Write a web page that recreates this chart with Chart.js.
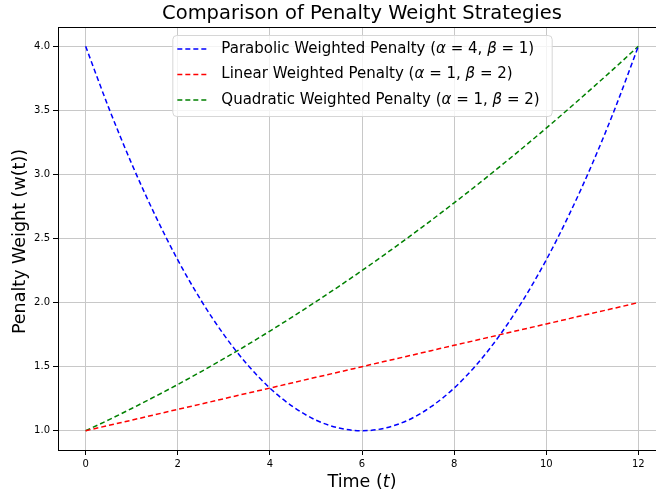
<!DOCTYPE html>
<html>
<head>
<meta charset="utf-8">
<script src="https://cdn.jsdelivr.net/npm/chart.js@4/dist/chart.umd.min.js"></script>
<style>
    html, body { margin: 0; padding: 0; background: #fff; overflow: hidden; }
    #wrap { position: relative; width: 666px; height: 491px; }
</style>
</head>
<body>
<div id="wrap"><canvas id="chart"></canvas></div>
<script>
// values, t in steps of 0.5
const times = [0, 0.5, 1, 1.5, 2, 2.5, 3, 3.5, 4, 4.5, 5, 5.5, 6,
    6.5, 7, 7.5, 8, 8.5, 9, 9.5, 10, 10.5, 11, 11.5, 12];
const parabolic = [4.000, 3.521, 3.083, 2.688, 2.333, 2.021, 1.750, 1.521, 1.333, 1.188, 1.083, 1.021, 1.000,
    1.021, 1.083, 1.188, 1.333, 1.521, 1.750, 2.021, 2.333, 2.688, 3.083, 3.521, 4.000];
const linear = [1.000, 1.042, 1.083, 1.125, 1.167, 1.208, 1.250, 1.292, 1.333, 1.375, 1.417, 1.458, 1.500,
    1.542, 1.583, 1.625, 1.667, 1.708, 1.750, 1.792, 1.833, 1.875, 1.917, 1.958, 2.000];
const quadratic = [1.000, 1.085, 1.174, 1.266, 1.361, 1.460, 1.563, 1.668, 1.778, 1.891, 2.007, 2.127, 2.250,
    2.377, 2.507, 2.641, 2.778, 2.918, 3.063, 3.210, 3.361, 3.516, 3.674, 3.835, 4.000];

const seriesLabels = [
    'Parabolic Weighted Penalty (α = 4, β = 1)',
    'Linear Weighted Penalty (α = 1, β = 2)',
    'Quadratic Weighted Penalty (α = 1, β = 2)',
];
const seriesColors = ['#0000ff', '#ff0000', '#008000'];

const xTicks = [0, 2, 4, 6, 8, 10, 12];
const yTicks = [1.0, 1.5, 2.0, 2.5, 3.0, 3.5, 4.0];

const titleText = 'Comparison of Penalty Weight Strategies';
const xTitle = [['Time (', false], ['t', true], [')', false]];
const yTitle = [['Penalty Weight (w(t))', false]];

const FONT = '"DejaVu Sans", sans-serif';

// split a label so greek letters come out italic, like mathtext
function richParts(text) {
    const parts = [];
    for (const ch of text) {
        const it = ch === 'α' || ch === 'β';
        const last = parts[parts.length - 1];
        if (last && last[1] === it) last[0] += ch;
        else parts.push([ch, it]);
    }
    return parts;
}

function richWidth(ctx, parts, size) {
    let w = 0;
    for (const [s, it] of parts) {
        ctx.font = (it ? 'italic ' : '') + size + 'px ' + FONT;
        w += ctx.measureText(s).width;
    }
    return w;
}

function drawRich(ctx, parts, x, y, size) {
    for (const [s, it] of parts) {
        ctx.font = (it ? 'italic ' : '') + size + 'px ' + FONT;
        ctx.fillText(s, x, y);
        x += ctx.measureText(s).width;
    }
}

const decor = {
    id: 'decor',
    afterDraw(chart) {
        const { ctx, chartArea: a } = chart;
        const cx = (a.left + a.right) / 2;
        ctx.save();

        // top spine
        ctx.strokeStyle = '#000';
        ctx.lineWidth = 1;
        ctx.beginPath();
        ctx.moveTo(a.left, a.top + 0.5);
        ctx.lineTo(a.right, a.top + 0.5);
        ctx.stroke();

        ctx.fillStyle = '#000';
        ctx.textBaseline = 'middle';
        ctx.textAlign = 'center';
        ctx.font = '19.5px ' + FONT;
        ctx.fillText(titleText, cx, 14);

        ctx.textAlign = 'left';
        let w = richWidth(ctx, xTitle, 17.5);
        drawRich(ctx, xTitle, cx - w / 2, 482, 17.5);

        ctx.save();
        ctx.translate(20, (a.top + a.bottom) / 2 + 3);
        ctx.rotate(-Math.PI / 2);
        w = richWidth(ctx, yTitle, 17.5);
        drawRich(ctx, yTitle, -w / 2, 0, 17.5);
        ctx.restore();

        // legend box
        const rows = seriesLabels.map(richParts);
        const textW = Math.max(...rows.map(r => richWidth(ctx, r, 15)));
        const boxW = 49 + textW + 12;
        const boxL = cx - boxW / 2;
        const boxT = 35;
        const boxH = 81;
        ctx.beginPath();
        ctx.roundRect(boxL + 0.5, boxT + 0.5, boxW, boxH, 4);
        ctx.fillStyle = 'rgba(255,255,255,0.8)';
        ctx.fill();
        ctx.strokeStyle = '#d6d6d6';
        ctx.stroke();

        rows.forEach((parts, i) => {
            const y = boxT + 14 + i * 25.5;
            ctx.strokeStyle = seriesColors[i];
            ctx.lineWidth = 1.5;
            ctx.setLineDash([5, 3]);
            ctx.beginPath();
            ctx.moveTo(boxL + 5, y);
            ctx.lineTo(boxL + 36, y);
            ctx.stroke();
            ctx.setLineDash([]);
            ctx.fillStyle = '#000';
            drawRich(ctx, parts, boxL + 49, y, 15);
        });

        ctx.restore();
    }
};

const series = [parabolic, linear, quadratic];

new Chart(document.getElementById('chart'), {
    type: 'line',
    data: {
        datasets: series.map((vals, i) => ({
            label: seriesLabels[i],
            data: times.map((t, k) => ({ x: t, y: vals[k] })),
            borderColor: seriesColors[i],
            borderWidth: 1.5,
            borderDash: [5, 3],
            pointRadius: 0,
            fill: false,
            cubicInterpolationMode: 'monotone',
        })),
    },
    options: {
        responsive: true,
        maintainAspectRatio: false,
        animation: false,
        layout: { padding: { top: 27, left: 0, right: 0, bottom: 0 } },
        plugins: {
            legend: { display: false },
            title: { display: false },
            tooltip: { enabled: false },
        },
        scales: {
            x: {
                type: 'linear',
                min: -0.6,
                max: 12.6,
                afterBuildTicks: ax => { ax.ticks = xTicks.map(v => ({ value: v })); },
                afterFit: ax => { ax.height = 41; },
                grid: { color: '#c8c8c8', tickColor: '#000', tickLength: 5 },
                border: { color: '#000' },
                ticks: {
                    color: '#000',
                    padding: 3,
                    maxRotation: 0,
                    font: { family: FONT, size: 10 },
                    callback: v => String(v),
                },
            },
            y: {
                type: 'linear',
                min: 0.85,
                max: 4.15,
                afterBuildTicks: ax => { ax.ticks = yTicks.map(v => ({ value: v })); },
                afterFit: ax => { ax.width = 58; },
                grid: { color: '#c8c8c8', tickColor: '#000', tickLength: 5 },
                border: { color: '#000' },
                ticks: {
                    color: '#000',
                    padding: 3,
                    font: { family: FONT, size: 10 },
                    callback: v => v.toFixed(1),
                },
            },
        },
    },
    plugins: [decor],
});
</script>
</body>
</html>
